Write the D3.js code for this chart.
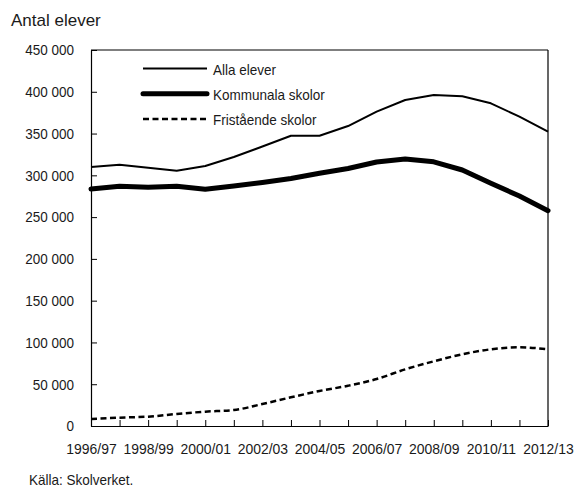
<!DOCTYPE html>
<html>
<head>
<meta charset="utf-8">
<script src="https://cdn.jsdelivr.net/npm/d3@7"></script>
<style>
  html, body { margin: 0; padding: 0; background: #fff; }
  svg { display: block; }
  text { font-family: "Liberation Sans", Arial, sans-serif; fill: #1a1a1a; }
</style>
</head>
<body>
<svg id="chart" width="577" height="488"></svg>
<script>
const years = ["1996/97","1997/98","1998/99","1999/00","2000/01","2001/02","2002/03","2003/04","2004/05","2005/06","2006/07","2007/08","2008/09","2009/10","2010/11","2011/12","2012/13"];
const tickLabels = ["1996/97","1998/99","2000/01","2002/03","2004/05","2006/07","2008/09","2010/11","2012/13"];
const allaElever = [310000,312700,309100,305600,311200,322000,334500,347400,347400,359000,376200,390200,396100,394600,386200,370200,352200];
const kommunala = [283600,287000,285600,287000,283400,287200,291500,296200,302400,308200,316000,319600,316200,306400,290400,275200,257700];
const friststaende = [8400,10000,11200,14400,17200,19100,26300,34300,41900,48200,56200,67800,77400,85800,91800,94200,91800];
const yTicks = [0,50000,100000,150000,200000,250000,300000,350000,400000,450000];
const seriesNames = ["Alla elever","Kommunala skolor","Fristående skolor"];

const svg = d3.select("#chart");
const mLeft = 91, mRight = 548, mTop = 50, mBottom = 426;
const FS = 15;
const SQUEEZE = 0.9;

function condense(sel, f) {
  sel.each(function() {
    const len = this.getComputedTextLength();
    if (len > 0) {
      d3.select(this).attr("textLength", len * f).attr("lengthAdjust", "spacingAndGlyphs");
    }
  });
}

const x = d3.scalePoint().domain(years).range([mLeft, mRight]);
const y = d3.scaleLinear().domain([0, 450000]).range([mBottom, mTop]);

// frame top and right
svg.append("line").attr("x1", mLeft).attr("x2", mRight).attr("y1", mTop).attr("y2", mTop)
  .attr("stroke", "#000").attr("stroke-width", 1.2);
svg.append("line").attr("x1", mRight).attr("x2", mRight).attr("y1", mTop).attr("y2", mBottom)
  .attr("stroke", "#000").attr("stroke-width", 1.2);

// y axis
const yAxis = svg.append("g").attr("transform", `translate(${mLeft},0)`)
  .call(d3.axisLeft(y).tickValues(yTicks).tickSizeInner(-6).tickSizeOuter(0).tickPadding(17)
    .tickFormat(d => d === 0 ? "0" : d3.format(",")(d).replace(/,/g, " ")));
yAxis.select(".domain").attr("stroke", "#000").attr("stroke-width", 1.2);
yAxis.selectAll(".tick line").attr("stroke", "#000").attr("stroke-width", 1);
yAxis.selectAll(".tick text").attr("font-size", FS).attr("fill", "#1a1a1a")
  .style("font-family", '"Liberation Sans", Arial, sans-serif');
condense(yAxis.selectAll(".tick text"), SQUEEZE);

// x axis
const xAxis = svg.append("g").attr("transform", `translate(0,${mBottom})`)
  .call(d3.axisBottom(x).tickSizeInner(-6).tickSizeOuter(0).tickPadding(17)
    .tickFormat(d => tickLabels.includes(d) ? d : ""));
xAxis.select(".domain").attr("stroke", "#000").attr("stroke-width", 1.2);
xAxis.selectAll(".tick line").attr("stroke", "#000").attr("stroke-width", 1);
xAxis.selectAll(".tick text").attr("font-size", FS).attr("fill", "#1a1a1a")
  .style("font-family", '"Liberation Sans", Arial, sans-serif');
condense(xAxis.selectAll(".tick text"), 0.93);

const straight = d3.line().x((d, i) => x(years[i])).y(d => y(d));
const smooth = d3.line().x((d, i) => x(years[i])).y(d => y(d)).curve(d3.curveMonotoneX);

svg.append("path").datum(friststaende).attr("d", smooth).attr("fill", "none")
  .attr("stroke", "#000").attr("stroke-width", 2.5).attr("stroke-dasharray", "6,3.5");
svg.append("path").datum(allaElever).attr("d", straight).attr("fill", "none")
  .attr("stroke", "#000").attr("stroke-width", 2).attr("stroke-linejoin", "round");
svg.append("path").datum(kommunala).attr("d", straight).attr("fill", "none")
  .attr("stroke", "#000").attr("stroke-width", 5).attr("stroke-linecap", "round").attr("stroke-linejoin", "round");

// legend
const legendStyles = [
  {w: 2, dash: null, cap: "butt"},
  {w: 5, dash: null, cap: "round"},
  {w: 2.5, dash: "6,3.5", cap: "butt"}
];
const lg = svg.append("g");
seriesNames.forEach((name, i) => {
  const base = 74.5 + i * 25.3;
  const ly = base - 6;
  const l = lg.append("line").attr("x1", 143).attr("x2", 207).attr("y1", ly).attr("y2", ly)
    .attr("stroke", "#000").attr("stroke-width", legendStyles[i].w).attr("stroke-linecap", legendStyles[i].cap);
  if (legendStyles[i].dash) l.attr("stroke-dasharray", legendStyles[i].dash);
  lg.append("text").attr("x", 213).attr("y", base).attr("font-size", FS).text(name);
});
condense(lg.selectAll("text"), SQUEEZE);

// title and source
svg.append("text").attr("x", 11).attr("y", 26).attr("font-size", 17).text("Antal elever");
const src = svg.append("text").attr("x", 29).attr("y", 485).attr("font-size", FS).text("Källa: Skolverket.");
condense(src, SQUEEZE);
</script>
</body>
</html>
